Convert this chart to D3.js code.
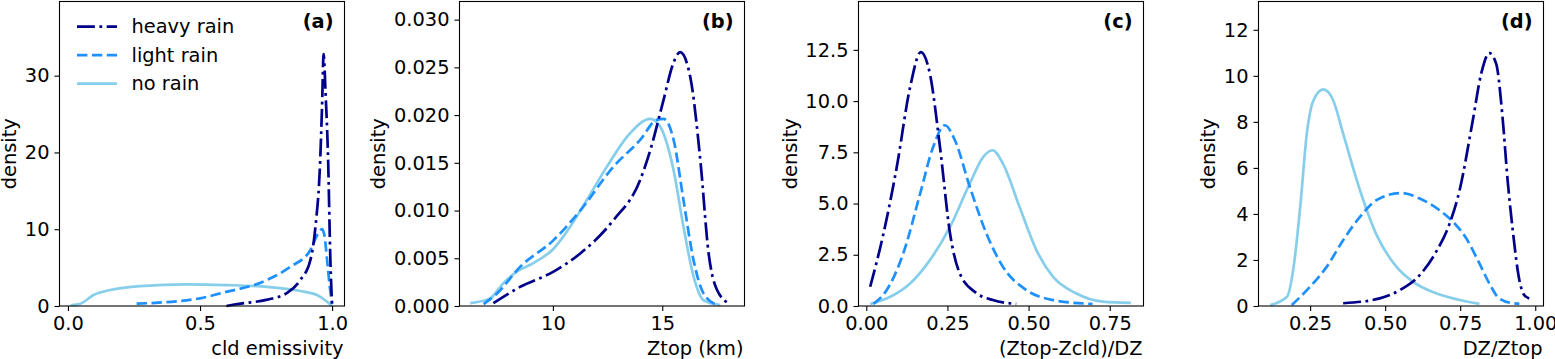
<!DOCTYPE html>
<html>
<head>
<meta charset="utf-8">
<script src="https://cdn.jsdelivr.net/npm/d3@7/dist/d3.min.js"></script>
<style>
  body { margin: 0; background: #fff; }
  svg text { font-family: "DejaVu Sans", sans-serif; fill: #000; }
</style>
</head>
<body>
<div id="root"></div>
<script>
const width = 1555;
const height = 359;
const fontSize = 19.4;

const seriesNames = ["heavy rain", "light rain", "no rain"];
const seriesColors = ["#00008b", "#1e90ff", "#87ceeb"];
const seriesDashes = ["17.9,4.5,2.8,4.5", "10.4,4.5", null];

// (a) cloud emissivity
const emisHeavyX = [0.60, 0.63, 0.75, 0.83, 0.88, 0.918, 0.937, 0.955, 0.962, 0.968, 0.975, 0.985, 0.9935, 1.0];
const emisHeavyY = [0.0, 0.2, 0.8, 1.7, 3.4, 6.0, 10.3, 19.0, 26.0, 32.8, 28.0, 19.0, 6.0, 0.0];
const emisLightX = [0.26, 0.5, 0.577, 0.754, 0.842, 0.918, 0.945, 0.962, 0.972, 0.981, 0.994, 1.0];
const emisLightY = [0.3, 1.0, 1.65, 3.4, 5.1, 7.3, 9.3, 10.0, 9.0, 6.0, 1.7, 0.3];
const emisNoX = [0.01, 0.047, 0.097, 0.16, 0.274, 0.45, 0.6, 0.754, 0.88, 0.943, 0.981, 1.0];
const emisNoY = [0.1, 0.3, 1.43, 2.08, 2.6, 2.82, 2.73, 2.5, 1.95, 1.43, 0.56, 0.0];

// (b) cloud top height
const ztopHeavyX = [7.28, 8.5, 10.03, 11.25, 12.77, 13.99, 14.45, 15.06, 15.5, 15.82, 16.28, 16.74, 17.12, 17.5, 18.1];
const ztopHeavyY = [0.0003, 0.0020, 0.0036, 0.0055, 0.0090, 0.0132, 0.0163, 0.0216, 0.0254, 0.0266, 0.0240, 0.0153, 0.0055, 0.0017, 0.0002];
const ztopLightX = [6.83, 7.44, 8.5, 10.03, 11.25, 12.77, 13.99, 14.75, 15.06, 15.52, 15.97, 16.43, 16.89, 17.5];
const ztopLightY = [0.0002, 0.0013, 0.0041, 0.0069, 0.0100, 0.0146, 0.0174, 0.0195, 0.0196, 0.0174, 0.0111, 0.0048, 0.0013, 0.0001];
const ztopNoX = [6.22, 7.13, 7.74, 8.35, 9.11, 10.03, 10.79, 11.55, 12.47, 13.53, 14.45, 14.9, 15.52, 15.97, 16.43, 16.89, 17.65];
const ztopNoY = [0.0003, 0.0008, 0.0024, 0.0036, 0.0045, 0.0060, 0.0083, 0.0111, 0.0146, 0.0181, 0.0196, 0.0188, 0.0142, 0.0083, 0.0031, 0.0006, 0.0001];

// (c) (Ztop-Zcld)/DZ
const depthHeavyX = [0.012, 0.053, 0.094, 0.135, 0.168, 0.196, 0.227, 0.258, 0.288, 0.34, 0.39, 0.462];
const depthHeavyY = [0.94, 3.54, 6.79, 10.68, 12.39, 11.33, 7.76, 3.54, 1.59, 0.62, 0.29, 0.1];
const depthLightX = [0.022, 0.063, 0.114, 0.166, 0.206, 0.242, 0.273, 0.319, 0.37, 0.421, 0.493, 0.575, 0.697];
const depthLightY = [0.1, 0.78, 2.57, 5.49, 7.76, 8.82, 8.09, 5.81, 3.54, 1.91, 0.78, 0.29, 0.1];
const depthNoX = [0.012, 0.074, 0.135, 0.196, 0.258, 0.319, 0.36, 0.389, 0.421, 0.472, 0.524, 0.575, 0.646, 0.728, 0.815];
const depthNoY = [0.1, 0.45, 1.1, 2.24, 3.86, 5.98, 7.27, 7.6, 6.95, 4.84, 2.73, 1.43, 0.62, 0.21, 0.15];

// (d) DZ/Ztop
const ratioHeavyX = [0.36, 0.482, 0.549, 0.615, 0.67, 0.715, 0.748, 0.792, 0.82, 0.847, 0.87, 0.891, 0.908, 0.925, 0.947, 0.963, 0.98];
const ratioHeavyY = [0.12, 0.33, 0.69, 1.34, 2.36, 3.59, 5.03, 8.07, 10.1, 10.99, 10.52, 8.21, 5.46, 3.3, 1.13, 0.48, 0.33];
const ratioLightX = [0.189, 0.25, 0.305, 0.36, 0.416, 0.471, 0.554, 0.615, 0.681, 0.726, 0.77, 0.814, 0.847, 0.88, 0.925, 0.947];
const ratioLightY = [0.04, 0.84, 1.7, 2.86, 3.87, 4.6, 4.91, 4.67, 4.16, 3.66, 2.94, 1.85, 0.98, 0.33, 0.12, 0.1];
const ratioNoX = [0.117, 0.173, 0.195, 0.217, 0.239, 0.261, 0.294, 0.327, 0.36, 0.416, 0.471, 0.538, 0.593, 0.67, 0.748, 0.814];
const ratioNoY = [0.04, 0.4, 1.7, 4.31, 7.49, 8.93, 9.41, 8.93, 7.49, 5.03, 3.1, 1.7, 1.05, 0.55, 0.26, 0.09];

// axis setup per panel
const panelLetters = ["(a)", "(b)", "(c)", "(d)"];
const xLabels = ["cld emissivity", "Ztop (km)", "(Ztop-Zcld)/DZ", "DZ/Ztop"];
const xDomains = [[-0.032, 1.047], [5.73, 18.76], [-0.024, 0.854], [0.078, 1.0275]];
const yDomains = [[0, 39.66], [0, 0.0319], [0, 14.86], [0, 13.23]];
const xTicks = [[0, 0.5, 1.0], [10, 15], [0, 0.25, 0.5, 0.75], [0.25, 0.5, 0.75, 1.0]];
const yTicks = [[0, 10, 20, 30], [0, 0.005, 0.01, 0.015, 0.02, 0.025, 0.03], [0, 2.5, 5, 7.5, 10, 12.5], [0, 2, 4, 6, 8, 10, 12]];
const xFormats = [".1f", "d", ".2f", ".2f"];
const yFormats = ["d", ".3f", ".1f", "d"];

const panelData = [
  [[emisHeavyX, emisHeavyY], [emisLightX, emisLightY], [emisNoX, emisNoY]],
  [[ztopHeavyX, ztopHeavyY], [ztopLightX, ztopLightY], [ztopNoX, ztopNoY]],
  [[depthHeavyX, depthHeavyY], [depthLightX, depthLightY], [depthNoX, depthNoY]],
  [[ratioHeavyX, ratioHeavyY], [ratioLightX, ratioLightY], [ratioNoX, ratioNoY]],
];

// frame positions in pixels
const frameLeft = [59.5, 459.5, 858.5, 1258.5];
const frameWidth = 285;
const frameTop = 1.5;
const frameBottom = 306;

const svg = d3.select("#root")
  .append("svg")
  .attr("width", width)
  .attr("height", height);

panelData.forEach((series, p) => {
  const left = frameLeft[p];
  const right = left + frameWidth;

  const x = d3.scaleLinear().domain(xDomains[p]).range([left, right]);
  const y = d3.scaleLinear().domain(yDomains[p]).range([frameBottom, frameTop]);

  const g = svg.append("g");

  // curves
  const line = d3.line()
    .x((d) => x(d[0]))
    .y((d) => y(d[1]))
    .curve(d3.curveMonotoneX);

  // draw no rain first so heavy rain sits on top
  [2, 1, 0].forEach((s) => {
    const pts = series[s][0].map((v, i) => [v, series[s][1][i]]);
    g.append("path")
      .datum(pts)
      .attr("d", line)
      .attr("fill", "none")
      .attr("stroke", seriesColors[s])
      .attr("stroke-width", 2.7)
      .attr("stroke-dasharray", seriesDashes[s]);
  });

  // axes
  const xAxis = g.append("g")
    .attr("transform", `translate(0,${frameBottom})`)
    .call(d3.axisBottom(x).tickValues(xTicks[p]).tickFormat(d3.format(xFormats[p])).tickSize(5).tickPadding(5));
  const yAxis = g.append("g")
    .attr("transform", `translate(${left},0)`)
    .call(d3.axisLeft(y).tickValues(yTicks[p]).tickFormat(d3.format(yFormats[p])).tickSize(5).tickPadding(5));

  [xAxis, yAxis].forEach((ax) => {
    ax.attr("font-size", fontSize).attr("font-family", "DejaVu Sans");
    ax.select(".domain").remove();
    ax.selectAll("line").attr("stroke", "#000").attr("stroke-width", 1.1);
    ax.selectAll("text").attr("fill", "#000");
  });

  // frame
  g.append("rect")
    .attr("x", left)
    .attr("y", frameTop)
    .attr("width", frameWidth)
    .attr("height", frameBottom - frameTop)
    .attr("fill", "none")
    .attr("stroke", "#000")
    .attr("stroke-width", 1.1);

  // axis labels
  g.append("text")
    .attr("x", right - 1)
    .attr("y", 355)
    .attr("text-anchor", "end")
    .attr("font-size", fontSize)
    .text(xLabels[p]);

  let minX = left;
  yAxis.selectAll("text").each(function () {
    const b = this.getBBox();
    const ctm = this.getCTM();
    minX = Math.min(minX, b.x + ctm.e);
  });
  const yLabelX = minX - 8.5;
  g.append("text")
    .attr("transform", `translate(${yLabelX},${(frameTop + frameBottom) / 2}) rotate(-90)`)
    .attr("text-anchor", "middle")
    .attr("font-size", fontSize)
    .text("density");

  // panel letter
  g.append("text")
    .attr("x", right - 11)
    .attr("y", 28)
    .attr("text-anchor", "end")
    .attr("font-size", fontSize)
    .attr("font-weight", "bold")
    .text(panelLetters[p]);
});

// legend in panel (a)
const legend = svg.append("g");
seriesNames.forEach((name, i) => {
  const ly = 26.7 + i * 28.5;
  legend.append("line")
    .attr("x1", 77)
    .attr("x2", 117)
    .attr("y1", ly)
    .attr("y2", ly)
    .attr("stroke", seriesColors[i])
    .attr("stroke-width", 2.7)
    .attr("stroke-dasharray", seriesDashes[i]);
  legend.append("text")
    .attr("x", 131.5)
    .attr("y", ly)
    .attr("dy", "0.35em")
    .attr("font-size", fontSize)
    .text(name);
});
</script>
</body>
</html>
